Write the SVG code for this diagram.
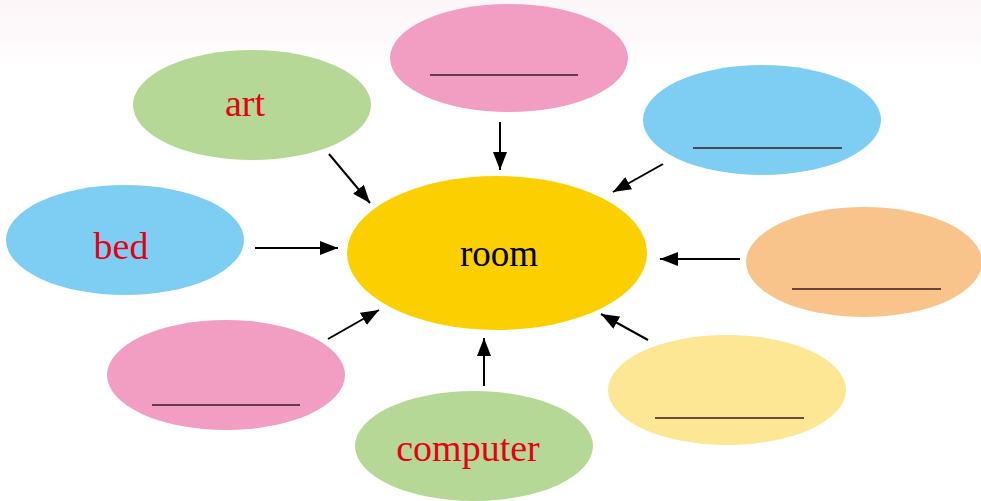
<svg xmlns="http://www.w3.org/2000/svg" width="981" height="501" viewBox="0 0 981 501">
<defs>
<linearGradient id="bg" x1="0" y1="0" x2="0" y2="1">
<stop offset="0" stop-color="#fcf6f9"/>
<stop offset="0.5" stop-color="#fdf9fb"/>
<stop offset="1" stop-color="#ffffff"/>
</linearGradient>
<marker id="ahb" markerWidth="18" markerHeight="14" refX="18" refY="7" orient="auto" markerUnits="userSpaceOnUse">
<path d="M0,0 L18,7 L0,14 Z" fill="#000"/>
</marker>
</defs>
<style>
.lbl{font-family:"Liberation Serif","Times New Roman",serif;font-size:38px;fill:#e60012;text-anchor:middle;dominant-baseline:central}
.room{font-family:"Liberation Serif","Times New Roman",serif;font-size:37px;fill:#000;text-anchor:middle;dominant-baseline:central}
.blank{stroke:#3a1a24;stroke-width:1.5}
.conn line{stroke:#000;stroke-width:2;marker-end:url(#ahb)}
</style>
<rect x="0" y="0" width="981" height="501" fill="#fff"/>
<rect x="0" y="0" width="981" height="70" fill="url(#bg)"/>
<g id="node-top">
<ellipse cx="509" cy="58" rx="119" ry="54" fill="#f19ec2"/>
<line class="blank" x1="430" y1="75" x2="578" y2="75"/>
</g>
<g id="node-art">
<ellipse cx="252" cy="105" rx="119" ry="55" fill="#b5d897"/>
<text class="lbl" x="245" y="103">art</text>
</g>
<g id="node-topright">
<ellipse cx="762" cy="120" rx="119" ry="55" fill="#7ecef4"/>
<line class="blank" x1="693" y1="148" x2="842" y2="148"/>
</g>
<g id="node-bed">
<ellipse cx="125" cy="240" rx="119" ry="55" fill="#7ecef4"/>
<text class="lbl" x="121" y="246">bed</text>
</g>
<g id="node-room">
<ellipse cx="497" cy="253" rx="150" ry="77" fill="#fcd000"/>
<text class="room" x="499" y="253">room</text>
</g>
<g id="node-right">
<ellipse cx="864" cy="262" rx="118" ry="55" fill="#f8c48c"/>
<line class="blank" x1="792" y1="289" x2="941" y2="289"/>
</g>
<g id="node-bottomleft">
<ellipse cx="226" cy="375" rx="119" ry="55" fill="#f19ec2"/>
<line class="blank" x1="152" y1="405" x2="300" y2="405"/>
</g>
<g id="node-bottomright">
<ellipse cx="727" cy="390" rx="119" ry="55" fill="#fde694"/>
<line class="blank" x1="655" y1="418" x2="804" y2="418"/>
</g>
<g id="node-computer">
<ellipse cx="474" cy="446" rx="119" ry="55" fill="#b5d897"/>
<text class="lbl" x="468" y="448">computer</text>
</g>
<g id="connectors" class="conn">
<line x1="329" y1="154" x2="370" y2="203"/>
<line x1="500" y1="122" x2="500" y2="170"/>
<line x1="663" y1="164" x2="613" y2="192"/>
<line x1="255" y1="248" x2="338" y2="248"/>
<line x1="740" y1="259" x2="660" y2="259"/>
<line x1="328" y1="339" x2="379" y2="310"/>
<line x1="484" y1="386" x2="484" y2="338"/>
<line x1="648" y1="340" x2="601" y2="314"/>
</g>
</svg>
